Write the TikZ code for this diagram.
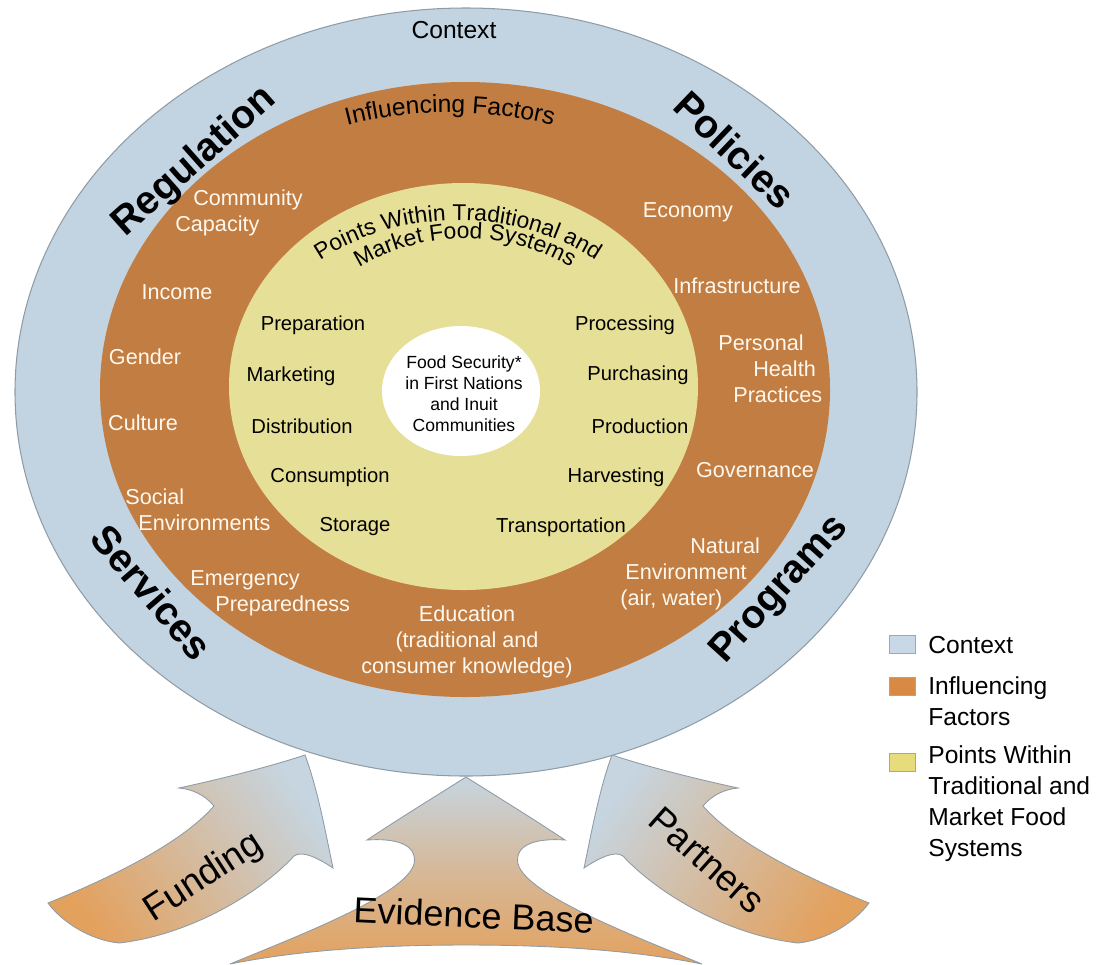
\documentclass[tikz,border=0pt]{standalone}
\usepackage{fontspec}
\setmainfont{Liberation Sans}
\usetikzlibrary{decorations.text}

\definecolor{ctxblue}{HTML}{C2D4E2}
\definecolor{inforange}{HTML}{C27D42}
\definecolor{ptsyellow}{HTML}{E6DF98}
\definecolor{arrblue}{HTML}{C6D5E0}
\definecolor{arrorange}{HTML}{E3A15E}
\definecolor{rimgray}{HTML}{8F9CA6}
\definecolor{keyblue}{HTML}{C8D8E6}
\definecolor{keyorange}{HTML}{D88A44}
\definecolor{keyyellow}{HTML}{E6DC7C}
\definecolor{factortext}{HTML}{FFF8EE}

\newcommand\fsz[2]{\fontsize{#1}{#2}\selectfont}

\begin{document}
\begin{tikzpicture}[x=0.02cm, y=-0.02cm,
  ringlabel/.style={font=\fsz{22.5}{27}\bfseries, inner sep=0},
  factor/.style={font=\fsz{12.3}{14.8}, text=factortext, inner sep=0},
  factorl/.style={factor, align=left, anchor=west},
  factorc/.style={factor, align=center},
  stage/.style={font=\fsz{11.5}{14}, inner sep=0},
  arrowlabel/.style={font=\fsz{21}{25}, inner sep=0},
  arrowbody/.style={draw=rimgray, line width=0.5pt},
  keybox/.style={draw=gray!70, line width=0.4pt, minimum width=0.52cm, minimum height=0.36cm, inner sep=0},
  keytext/.style={font=\fsz{14}{17.6}, align=left, anchor=west, inner sep=0},
]
\useasboundingbox (0,0) rectangle (1111,964);

% ---- supporting arrows ----
% Funding
\path[arrowbody, top color=arrblue, bottom color=arrorange, shading angle=-55]
  (305,755) .. controls (318,790) and (326,835) .. (333,868)
  .. controls (318,858) and (302,850) .. (294,856)
  .. controls (260,893) and (190,935) .. (119,943)
  .. controls (90,940) and (62,922) .. (48,903)
  .. controls (105,880) and (180,845) .. (214,806)
  .. controls (205,795) and (192,789) .. (179,788)
  .. controls (225,778) and (272,766) .. cycle;
% Partners (mirror image of Funding; the shading is set in page orientation)
\begin{scope}[shift={(917,0)}, xscale=-1]
\path[arrowbody, top color=arrblue, bottom color=arrorange, shading angle=55]
  (305,755) .. controls (318,790) and (326,835) .. (333,868)
  .. controls (318,858) and (302,850) .. (294,856)
  .. controls (260,893) and (190,935) .. (119,943)
  .. controls (90,940) and (62,922) .. (48,903)
  .. controls (105,880) and (180,845) .. (214,806)
  .. controls (205,795) and (192,789) .. (179,788)
  .. controls (225,778) and (272,766) .. cycle;
\end{scope}
% Evidence Base
\path[arrowbody, top color=arrblue, bottom color=arrorange, middle color=arrblue!45!arrorange]
  (466,777) .. controls (436,796) and (400,818) .. (367,840)
  .. controls (395,838) and (418,844) .. (414,864)
  .. controls (405,895) and (300,935) .. (230,964)
  .. controls (300,950) and (380,945) .. (466,945)
  .. controls (552,945) and (632,950) .. (702,964)
  .. controls (632,935) and (527,895) .. (518,864)
  .. controls (514,844) and (537,838) .. (565,840)
  .. controls (532,818) and (496,796) .. cycle;

\node[arrowlabel, rotate=33] (funding) at (204,878) {Funding};
\node[arrowlabel, rotate=-41.6] (partners) at (707,860) {Partners};
\node[arrowlabel, font=\fsz{20.5}{24}, rotate=-2.5] (evidence) at (474,915) {Evidence Base};

% ---- nested rings ----
\fill[ctxblue, draw=rimgray, line width=0.6pt] (466,392) ellipse [x radius=451, y radius=384];
\fill[inforange] (465,389.5) ellipse [x radius=365, y radius=307.5];
\fill[ptsyellow] (463.5,386.5) ellipse [x radius=234.5, y radius=203.5];
\fill[white] (461,391) ellipse [x radius=79, y radius=65];

% ---- context ring ----
\node[font=\fsz{14}{17}, inner sep=0] (context) at (454,30) {Context};
\node[ringlabel, rotate=41.7] (regulation) at (195,162) {Regulation};
\node[ringlabel, rotate=-43.7] (policies) at (735,150) {Policies};
\node[ringlabel, rotate=-49.4] (services) at (152,592) {Services};
\node[ringlabel, rotate=47.8] (programs) at (780,590) {Programs};

% ---- influencing factors ring ----
\path[decorate, decoration={text along path, text align=center,
    text={|\fsz{14}{17}|Influencing Factors}}]
  (450,389.5) ++(220:340 and 277) arc[start angle=220, end angle=320, x radius=340, y radius=277];

\node[factorl] (community) at (175,212.5) {\hspace*{0.36cm}Community\\Capacity};
\node[factorc] (income) at (177,292) {Income};
\node[factorc] (gender) at (145,357) {Gender};
\node[factorc] (culture) at (143,423) {Culture};
\node[factorl] (social) at (125,509.5) {Social\\\hspace*{0.26cm}Environments};
\node[factorl] (emergency) at (190,593.5) {Emergency\\\hspace*{0.5cm}Preparedness};
\node[factorc, font=\fsz{12.3}{14.7}] (education) at (467,642) {Education\\(traditional and\\consumer knowledge)};
\node[factorl] (natural) at (620,573.5) {\hspace*{1.4cm}Natural\\\hspace*{0.1cm}Environment\\(air, water)};
\node[factorc] (governance) at (755,470) {Governance};
\node[factorl] (personal) at (718,369) {Personal\\\hspace*{0.7cm}Health\\\hspace*{0.3cm}Practices};
\node[factorc] (infrastructure) at (737,286) {Infrastructure};
\node[factorc] (economy) at (688,212) {Economy};

% ---- points within the food systems ----
\path[decorate, decoration={text along path, text align=center,
    text={|\fsz{13}{15}|Points Within Traditional and}}]
  (458,386.5) ++(200:212 and 166) arc[start angle=200, end angle=340, x radius=212, y radius=166];
\path[decorate, decoration={text along path, text align=center,
    text={|\fsz{13}{15}|Market Food Systems}}]
  (465,386.5) ++(200:177 and 148) arc[start angle=200, end angle=340, x radius=177, y radius=148];

\node[stage] (preparation) at (313,325) {Preparation};
\node[stage] (marketing) at (291,376) {Marketing};
\node[stage] (distribution) at (302,426) {Distribution};
\node[stage] (consumption) at (330,477) {Consumption};
\node[stage] (storage) at (355,527) {Storage};
\node[stage] (transportation) at (561,527) {Transportation};
\node[stage] (harvesting) at (616,477) {Harvesting};
\node[stage] (production) at (640,426) {Production};
\node[stage] (purchasing) at (638,375) {Purchasing};
\node[stage] (processing) at (625,325) {Processing};

% ---- centre ----
\node[font=\fsz{10}{11.9}, align=center, inner sep=0] (core) at (464,394)
  {Food Security*\\in First Nations\\and Inuit\\Communities};

% ---- legend ----
\node[keybox, fill=keyblue] (keyctx) at (902,644) {};
\node[keytext] (keyctxtext) at (928,645) {Context};
\node[keybox, fill=keyorange] (keyinf) at (902,686) {};
\node[keytext] (keyinftext) at (928,701) {Influencing\\Factors};
\node[keybox, fill=keyyellow] (keypts) at (902,762) {};
\node[keytext] (keyptstext) at (928,803.5) {Points Within\\Traditional and\\Market Food\\Systems};
\end{tikzpicture}
\end{document}
